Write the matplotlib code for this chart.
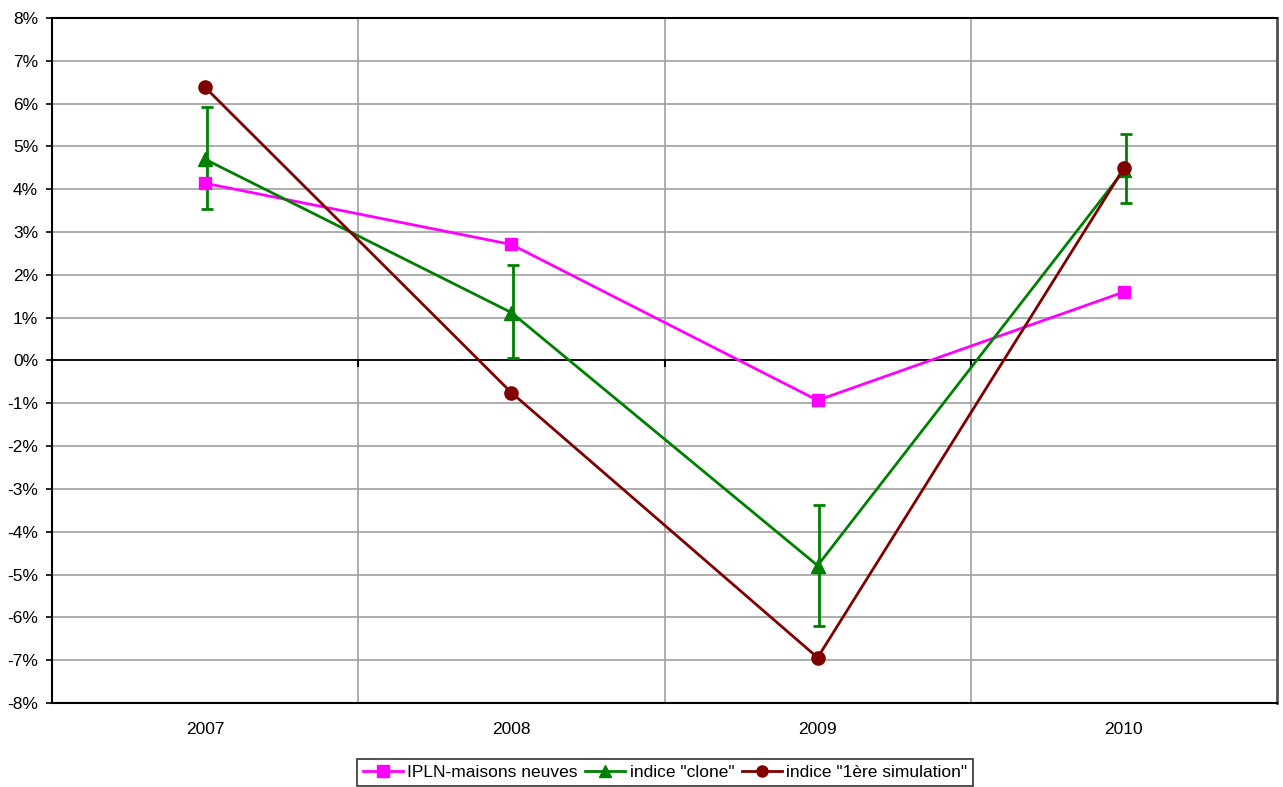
import numpy as np
import matplotlib.pyplot as plt
from matplotlib.ticker import FuncFormatter, FixedLocator

plt.rcParams['font.family'] = ['Liberation Sans', 'DejaVu Sans']

years = ['2007', '2008', '2009', '2010']
ipln = [4.14, 2.71, -0.93, 1.60]
clone = [4.70, 1.12, -4.79, 4.44]
clone_hi = [5.91, 2.22, -3.38, 5.30]
clone_lo = [3.53, 0.07, -6.19, 3.67]
simulation = [6.38, -0.75, -6.94, 4.49]

x = np.arange(len(years))
clone_err = [np.subtract(clone, clone_lo), np.subtract(clone_hi, clone)]

fig = plt.figure(figsize=(12.83, 7.87), dpi=100)
ax = fig.add_axes([52 / 1283, 1 - 703 / 787, (1277 - 52) / 1283, (703 - 18) / 787])

ax.plot(x, ipln, color='#ff00ff', lw=2, marker='s', ms=9,
        label='IPLN-maisons neuves', zorder=4)
ax.errorbar(x + 0.006, clone, yerr=clone_err, fmt='none', ecolor='#008000',
            elinewidth=2, capsize=4.5, capthick=2, zorder=3)
ax.plot(x, clone, color='#008000', lw=2, marker='^', ms=10,
        label='indice "clone"', zorder=4)
ax.plot(x, simulation, color='#800000', lw=2, marker='o', ms=9.5,
        label='indice "1ère simulation"', zorder=5)

ax.set_xlim(-0.5, 3.5)
ax.set_ylim(-8, 8)
ax.set_xticks(x)
ax.set_xticklabels(years)
ax.xaxis.set_minor_locator(FixedLocator([0.5, 1.5, 2.5]))
ax.tick_params(axis='x', which='both', length=0, pad=14, labelsize=12.5)
ax.yaxis.set_major_locator(FixedLocator(np.arange(-8, 9, 1)))
ax.yaxis.set_major_formatter(FuncFormatter(lambda v, p: f'{v:.0f}%'))
ax.tick_params(axis='y', length=4, width=1.2, labelsize=12.5, pad=6)

ax.grid(axis='y', which='major', color='#a0a0a0', lw=1.2)
ax.grid(axis='x', which='minor', color='#a0a0a0', lw=1.2)
ax.set_axisbelow(True)

# zero line with small category ticks
ax.axhline(0, color='black', lw=1.3, zorder=2)
for xb in [0.5, 1.5, 2.5]:
    ax.plot([xb, xb], [0, -0.12], color='black', lw=1.5, zorder=2)

for side in ['left', 'bottom', 'top']:
    ax.spines[side].set_color('black')
    ax.spines[side].set_linewidth(1.5)
ax.spines['right'].set_color('#505050')
ax.spines['right'].set_linewidth(2)

leg = fig.legend(loc='upper center', bbox_to_anchor=(665 / 1283, 1 - 759 / 787),
                 ncol=3, frameon=True, fancybox=False, fontsize=12.5,
                 handlelength=2.3, handletextpad=0.25, columnspacing=0.45,
                 borderpad=0.35, borderaxespad=0)
leg.get_frame().set_edgecolor('black')
leg.get_frame().set_linewidth(1.2)
for h in leg.legend_handles:
    h.set_markersize(8)

fig.savefig('out.png', dpi=100)
